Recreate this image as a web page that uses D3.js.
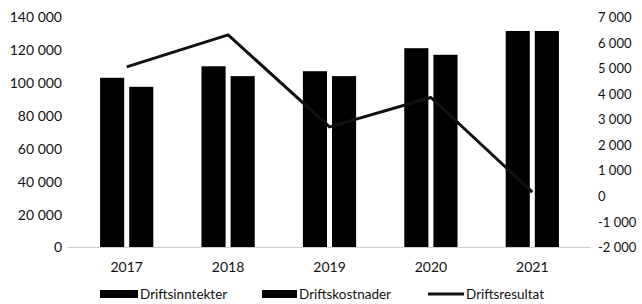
<!DOCTYPE html>
<html><head><meta charset="utf-8">
<script src="https://cdn.jsdelivr.net/npm/d3@7"></script>
<style>body{margin:0;background:#fff}svg{display:block}text{font-family:Lato,"Open Sans",sans-serif;fill:#111}</style>
</head><body><svg id="c" width="642" height="304"></svg>
<script>
const years = ["2017","2018","2019","2020","2021"];
const seriesNames = ["Driftsinntekter","Driftskostnader","Driftsresultat"];
const driftsinntekter = [103000,110000,107000,121000,131500];
const driftskostnader = [97500,104000,104000,117000,131500];
const driftsresultat = [5050,6300,2700,3850,150];
const leftTicks = [0,20000,40000,60000,80000,100000,120000,140000];
const rightTicks = [-2000,-1000,0,1000,2000,3000,4000,5000,6000,7000];

const svg = d3.select("#c");
const plotTop=17, plotBottom=247, plotLeft=76, plotRight=583;
const fmt = v => d3.format(",")(v).replace(/,/g," ").replace("\u2212","-");

const x0 = d3.scaleBand().domain(years).range([plotLeft,plotRight]).paddingInner(0.475).paddingOuter(0.2375);
const x1 = d3.scaleBand().domain(seriesNames.slice(0,2)).range([0,x0.bandwidth()]).paddingInner(0.172);
const yL = d3.scaleLinear().domain([0,140000]).range([plotBottom,plotTop]);
const yR = d3.scaleLinear().domain([-2000,7000]).range([plotBottom,plotTop]);

// baseline
svg.append("line").attr("x1",plotLeft-8).attr("x2",plotRight+8).attr("y1",yL(0)+0.5).attr("y2",yL(0)+0.5)
  .attr("stroke","#ccc").attr("stroke-width",1);

const rows = years.map((y,i)=>({year:y, vals:[driftsinntekter[i],driftskostnader[i]]}));
const g = svg.append("g");
rows.forEach(r=>{
  r.vals.forEach((v,j)=>{
    g.append("rect").attr("x",x0(r.year)+x1(seriesNames[j])).attr("width",x1.bandwidth())
     .attr("y",yL(v)).attr("height",yL(0)-yL(v)).attr("fill","#000");
  });
});

const line = d3.line().x((d,i)=>x0(years[i])+x0.bandwidth()/2).y(d=>yR(d));
svg.append("path").datum(driftsresultat).attr("d",line).attr("fill","none")
  .attr("stroke","#111").attr("stroke-width",3).attr("stroke-linejoin","round");

// left axis
const la = svg.append("g").attr("transform",`translate(${plotLeft-14},0)`)
  .call(d3.axisLeft(yL).tickValues(leftTicks).tickFormat(fmt).tickSize(0).tickPadding(0));
la.select(".domain").remove();
la.selectAll("text").style("font-size","14px").attr("dy","0.35em");

// right axis
const ra = svg.append("g").attr("transform",`translate(${plotRight+15},0)`)
  .call(d3.axisRight(yR).tickValues(rightTicks).tickFormat(fmt).tickSize(0).tickPadding(0));
ra.select(".domain").remove();
ra.selectAll("text").style("font-size","13px").attr("dy","0.35em");

// x axis labels
const xa = svg.append("g").attr("transform",`translate(0,${plotBottom+15})`)
  .call(d3.axisBottom(x0).tickSize(0).tickPadding(0));
xa.select(".domain").remove();
xa.selectAll("text").style("font-size","14px").attr("dy","0.71em");

// legend
const leg = svg.append("g");
const items = [{x:100,w:38,type:"rect",name:seriesNames[0]},{x:262,w:35,type:"rect",name:seriesNames[1]},{x:428,w:36,type:"line",name:seriesNames[2]}];
items.forEach(it=>{
  if(it.type==="rect") leg.append("rect").attr("x",it.x).attr("y",290).attr("width",it.w).attr("height",8).attr("fill","#000");
  else leg.append("line").attr("x1",it.x).attr("x2",it.x+it.w).attr("y1",294).attr("y2",294).attr("stroke","#111").attr("stroke-width",3);
  leg.append("text").attr("x",it.x+it.w+2).attr("y",294).attr("dy","0.35em").style("font-size","13.5px").text(it.name);
});
</script></body></html>
